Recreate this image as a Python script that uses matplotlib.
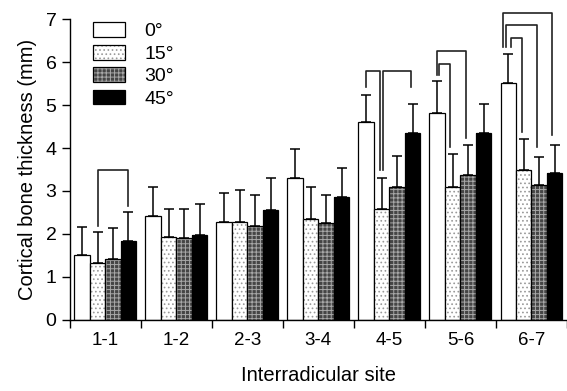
import numpy as np
import matplotlib
matplotlib.use("Agg")
import matplotlib.pyplot as plt
from matplotlib.patches import Patch
from matplotlib.legend_handler import HandlerTuple

plt.rcParams['font.family'] = ['Liberation Sans', 'DejaVu Sans']
plt.rcParams['hatch.linewidth'] = 0.7

sites = ['1-1', '1-2', '2-3', '3-4', '4-5', '5-6', '6-7']
angles = ['0°', '15°', '30°', '45°']

# mean values per angle
mean_0 = [1.51, 2.42, 2.28, 3.30, 4.61, 4.82, 5.51]
mean_15 = [1.33, 1.93, 2.28, 2.34, 2.58, 3.10, 3.49]
mean_30 = [1.42, 1.90, 2.18, 2.25, 3.10, 3.37, 3.14]
mean_45 = [1.84, 1.98, 2.56, 2.86, 4.34, 4.34, 3.42]

# upper error bar ends
top_0 = [2.16, 3.10, 2.95, 3.98, 5.23, 5.55, 6.20]
top_15 = [2.05, 2.58, 3.02, 3.10, 3.30, 3.86, 4.22]
top_30 = [2.14, 2.58, 2.91, 2.90, 3.81, 4.07, 3.80]
top_45 = [2.51, 2.70, 3.30, 3.53, 5.02, 5.02, 4.07]

means = [mean_0, mean_15, mean_30, mean_45]
tops = [top_0, top_15, top_30, top_45]

# significance brackets: site, bar a, bar b, height, left leg end, right leg end, leg nudges
brackets = [
    (0, 1, 3, 3.49, 2.19, 2.65, 0.0, 0.0),
    (4, 0, 1, 5.79, 5.42, 3.49, 0.0, -0.03),
    (4, 1, 3, 5.79, 3.49, 5.42, 0.02, -0.03),
    (5, 0, 2, 6.26, 5.70, 4.23, -0.01, -0.03),
    (5, 0, 1, 5.95, 5.70, 4.02, 0.03, -0.04),
    (6, 0, 3, 7.14, 6.35, 4.30, -0.07, -0.04),
    (6, 0, 2, 6.86, 6.35, 4.02, -0.03, -0.03),
    (6, 0, 1, 6.56, 6.35, 4.37, 0.04, -0.02),
]

faces = ['white', 'white', '#454545', 'black']
hatches = [None, '....', '++++', None]
hcolors = ['black', '#9a9a9a', '#a8a8a8', 'black']

fig = plt.figure(figsize=(5.67, 3.91), dpi=100)
ax = fig.add_axes([0.123, 0.182, 0.877, 0.769])

x = np.arange(len(sites))
w = 0.218
for j in range(4):
    pos = x + (j - 1.5) * w
    m = np.array(means[j])
    up = np.array(tops[j]) - m
    ax.bar(pos, m, w, color=faces[j], edgecolor=hcolors[j], hatch=hatches[j],
           linewidth=0, zorder=2)
    ax.bar(pos, m, w, fill=False, edgecolor='black', linewidth=0.9, zorder=2)
    ax.errorbar(pos, m, yerr=[np.zeros_like(m), up], fmt='none', ecolor='black',
                elinewidth=1.1, capsize=3.5, capthick=1.1, zorder=1)

for site, a, b, h, la, lb, da, db in brackets:
    xa = site + (a - 1.5) * w + da
    xb = site + (b - 1.5) * w + db
    ax.plot([xa, xa, xb, xb], [la, h, h, lb], color='#222222', lw=1.2,
            clip_on=False, zorder=3)

ax.set_xlim(-0.5, len(sites) - 0.5)
ax.set_ylim(0, 7)
ax.set_xticks(np.arange(len(sites) + 1) - 0.5)
ax.set_xticklabels([])
ax.set_xticks(x, minor=True)
ax.set_xticklabels(sites, minor=True, fontsize=13.5)
ax.tick_params(axis='x', which='minor', length=0, pad=9)
ax.tick_params(axis='x', which='major', length=6, width=1)
ax.set_yticks(range(8))
ax.tick_params(axis='y', labelsize=14, length=6, width=1)
for s in ['top', 'right']:
    ax.spines[s].set_visible(False)
ax.spines['left'].set_linewidth(1)
ax.spines['bottom'].set_linewidth(1)

ax.set_ylabel('Cortical bone thickness (mm)', fontsize=14.5, labelpad=6)
ax.set_xlabel('Interradicular site', fontsize=14.5, labelpad=12)

handles = []
for j in range(4):
    handles.append((Patch(facecolor=faces[j], edgecolor=hcolors[j], hatch=hatches[j], linewidth=0),
                    Patch(fill=False, edgecolor='black', linewidth=0.9)))
ax.legend(handles, angles, loc='upper left', bbox_to_anchor=(0.046, 0.99),
          frameon=False, fontsize=14, handlelength=1.65, handleheight=0.8,
          labelspacing=0.22, handletextpad=1.0, borderpad=0, borderaxespad=0,
          handler_map={tuple: HandlerTuple(ndivide=1, pad=0)})

fig.savefig('out.png', dpi=100)
